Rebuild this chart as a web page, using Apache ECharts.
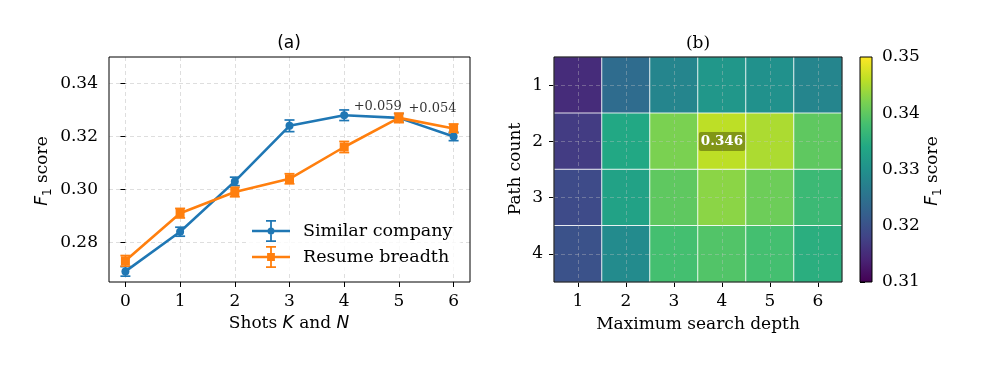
<!DOCTYPE html>
<html>
<head>
<meta charset="utf-8">
<script src="https://cdn.jsdelivr.net/npm/echarts@6/dist/echarts.min.js"></script>
<style>
html,body{margin:0;padding:0;background:#fff;}
#chart{width:997px;height:371px;}
</style>
</head>
<body>
<div id="chart"></div>
<script>
// ---------- data ----------
const shots = [0, 1, 2, 3, 4, 5, 6];
const similarCompany = [0.269, 0.284, 0.303, 0.324, 0.328, 0.327, 0.320];
const similarErr     = [0.0018, 0.0017, 0.0016, 0.0022, 0.0020, 0.0016, 0.0016];
const resumeBreadth  = [0.273, 0.291, 0.299, 0.304, 0.316, 0.327, 0.323];
const resumeErr      = [0.0020, 0.0018, 0.0018, 0.0019, 0.0021, 0.0018, 0.0017];
const leftYTicks = [0.28, 0.30, 0.32, 0.34];
const noteShots = [4, 5];
const noteValues = [similarCompany[4], resumeBreadth[5]];
const noteTexts = ['+0.059', '+0.054'];

const depthLabels = ['1', '2', '3', '4', '5', '6'];
const pathLabels = ['1', '2', '3', '4'];
const heatValues = [
  [0.315, 0.324, 0.328, 0.331, 0.330, 0.328],
  [0.317, 0.334, 0.342, 0.346, 0.345, 0.340],
  [0.319, 0.333, 0.340, 0.343, 0.341, 0.337],
  [0.320, 0.329, 0.338, 0.339, 0.338, 0.335]
];
const colorbarRange = [0.31, 0.35];

// ---------- styling ----------
const SERIF = 'DejaVu Serif';
const SANS = 'DejaVu Sans';
const FS = 17;
const BLUE = '#1f77b4', ORANGE = '#ff7f0e';
const viridis = ['#440154','#482475','#414487','#355f8d','#2a788e','#21918c','#22a884','#44bf70','#7ad151','#bddf26','#fde725'];

const G0 = {left:109, top:57, width:361, height:225};
const G1 = {left:554, top:57, width:288, height:225};
const G2 = {left:860, top:57, width:12, height:225};

const heatData = [];
heatValues.forEach((row, r) => row.forEach((v, c) => heatData.push([c, r, v])));
let maxCell = heatData[0];
heatData.forEach(d => { if (d[2] > maxCell[2]) maxCell = d; });

function errSeries(name, vals, errs, color) {
  return {
    type: 'custom', name: name + ' err', xAxisIndex: 0, yAxisIndex: 0,
    silent: true, clip: false,
    data: vals.map((v, i) => [shots[i], v, errs[i]]),
    renderItem: function (params, api) {
      const x = api.value(0), y = api.value(1), e = api.value(2);
      const t = api.coord([x, y + e]);
      const b = api.coord([x, y - e]);
      const w = 5;
      const st = {stroke: color, lineWidth: 1.7};
      return {type: 'group', children: [
        {type: 'line', shape: {x1: t[0], y1: t[1], x2: b[0], y2: b[1]}, style: st},
        {type: 'line', shape: {x1: t[0] - w, y1: t[1], x2: t[0] + w, y2: t[1]}, style: st},
        {type: 'line', shape: {x1: b[0] - w, y1: b[1], x2: b[0] + w, y2: b[1]}, style: st}
      ]};
    }
  };
}

const blueIcon = 'path://M0,9.75L38,9.75L38,12.25L0,12.25Z M18.1,0L19.9,0L19.9,22L18.1,22Z M14,0L24,0L24,1.7L14,1.7Z M14,20.3L24,20.3L24,22L14,22Z M15.5,11A3.5,3.5,0,1,1,22.5,11A3.5,3.5,0,1,1,15.5,11Z M45.9,11L46,11L46,11.1Z';
const orangeIcon = 'path://M0,9.75L38,9.75L38,12.25L0,12.25Z M18.1,0L19.9,0L19.9,22L18.1,22Z M14,0L24,0L24,1.7L14,1.7Z M14,20.3L24,20.3L24,22L14,22Z M15.1,7.1L22.9,7.1L22.9,14.9L15.1,14.9Z M45.9,11L46,11L46,11.1Z';

const tickStyle = {show: true, length: 5, lineStyle: {color: '#000', width: 1}};
const labelBase = {color: '#000', fontFamily: SERIF, fontSize: FS};
const gridDash = {show: true, lineStyle: {color: '#d6d6d6', type: [4, 3], width: 0.8}};

const chart = echarts.init(document.getElementById('chart'), null, {renderer: 'canvas'});

const option = {
  animation: false,
  backgroundColor: '#fff',
  grid: [
    Object.assign({outerBoundsMode: 'none', containLabel: false}, G0),
    Object.assign({outerBoundsMode: 'none', containLabel: false}, G1),
    Object.assign({outerBoundsMode: 'none', containLabel: false}, G2)
  ],
  xAxis: [
    {gridIndex: 0, type: 'value', min: -0.3, max: 6.3,
     axisLine: {show: false},
     axisTick: Object.assign({customValues: shots}, tickStyle),
     axisLabel: Object.assign({customValues: shots, margin: 11}, labelBase),
     splitLine: gridDash},
    {gridIndex: 1, type: 'category', data: depthLabels,
     axisLine: {show: false},
     axisTick: Object.assign({alignWithLabel: true}, tickStyle),
     axisLabel: Object.assign({margin: 11}, labelBase),
     splitLine: {show: false}},
    {gridIndex: 2, type: 'value', min: 0, max: 1, show: false}
  ],
  yAxis: [
    {gridIndex: 0, type: 'value', min: 0.265, max: 0.35,
     axisLine: {show: false},
     axisTick: Object.assign({customValues: leftYTicks}, tickStyle),
     axisLabel: Object.assign({customValues: leftYTicks, margin: 11, formatter: v => v.toFixed(2)}, labelBase),
     splitLine: gridDash},
    {gridIndex: 1, type: 'category', data: pathLabels, inverse: true,
     axisLine: {show: false},
     axisTick: Object.assign({alignWithLabel: true}, tickStyle),
     axisLabel: Object.assign({margin: 11}, labelBase),
     splitLine: {show: false}},
    {gridIndex: 2, type: 'value', min: colorbarRange[0], max: colorbarRange[1], interval: 0.01,
     position: 'right',
     axisLine: {show: false},
     axisTick: tickStyle,
     axisLabel: Object.assign({margin: 10, formatter: v => v.toFixed(2)}, labelBase),
     splitLine: {show: false}}
  ],
  visualMap: {
    type: 'continuous', show: false, min: colorbarRange[0], max: colorbarRange[1],
    seriesIndex: 5, dimension: 2, inRange: {color: viridis}
  },
  legend: {
    data: [{name: 'Similar company', icon: blueIcon}, {name: 'Resume breadth', icon: orangeIcon}],
    orient: 'vertical', left: 247, top: 217,
    itemWidth: 46, itemHeight: 22, itemGap: 4,
    padding: [3, 8, 4, 5],
    backgroundColor: 'rgba(255,255,255,0.8)', borderRadius: 3,
    selectedMode: false,
    textStyle: {color: '#000', fontFamily: SERIF, fontSize: 17.5}
  },
  series: [
    errSeries('Similar company', similarCompany, similarErr, BLUE),
    {type: 'line', name: 'Similar company', xAxisIndex: 0, yAxisIndex: 0,
     data: similarCompany.map((v, i) => [shots[i], v]),
     symbol: 'circle', symbolSize: 8, showAllSymbol: true,
     lineStyle: {color: BLUE, width: 2.6}, itemStyle: {color: BLUE},
     emphasis: {disabled: true}, silent: true},
    errSeries('Resume breadth', resumeBreadth, resumeErr, ORANGE),
    {type: 'line', name: 'Resume breadth', xAxisIndex: 0, yAxisIndex: 0,
     data: resumeBreadth.map((v, i) => [shots[i], v]),
     symbol: 'rect', symbolSize: 9, showAllSymbol: true,
     lineStyle: {color: ORANGE, width: 2.6}, itemStyle: {color: ORANGE},
     emphasis: {disabled: true}, silent: true},
    {type: 'scatter', name: 'notes', xAxisIndex: 0, yAxisIndex: 0,
     data: noteShots.map((s, i) => [s, noteValues[i], noteTexts[i]]),
     symbolSize: 1, itemStyle: {color: 'transparent'}, silent: true, z: 5,
     label: {show: true, position: 'right', distance: 9, offset: [0, -9],
             formatter: p => p.value[2], color: '#000', fontFamily: SERIF, fontSize: 13}},
    {type: 'heatmap', name: 'heat', xAxisIndex: 1, yAxisIndex: 1,
     data: heatData,
     itemStyle: {borderColor: 'rgba(255,255,255,0.85)', borderWidth: 1},
     emphasis: {disabled: true}, silent: true,
     markLine: {
       silent: true, symbol: 'none', animation: false,
       label: {show: false},
       lineStyle: {color: 'rgba(200,200,200,0.45)', type: [4, 3], width: 0.8},
       data: depthLabels.map((d, i) => ({xAxis: i})).concat(pathLabels.map((d, i) => ({yAxis: i})))
     },
     markPoint: {
       silent: true, symbol: 'rect', symbolSize: 0, animation: false,
       data: [{coord: [maxCell[0], maxCell[1]], value: maxCell[2]}],
       label: {show: true, position: 'inside', formatter: p => p.value.toFixed(3),
               color: '#fff', fontFamily: SERIF, fontWeight: 'bold', fontSize: 13.5,
               backgroundColor: 'rgba(40,40,0,0.4)', padding: [3, 2, 2, 2], borderRadius: 2}
     }},
    {type: 'custom', name: 'colorbar', xAxisIndex: 2, yAxisIndex: 2, silent: true,
     data: [[0, colorbarRange[0], 1, colorbarRange[1]]],
     renderItem: function (params, api) {
       const p0 = api.coord([api.value(0), api.value(1)]);
       const p1 = api.coord([api.value(2), api.value(3)]);
       return {type: 'rect',
         shape: {x: p0[0], y: p1[1], width: p1[0] - p0[0], height: p0[1] - p1[1]},
         style: {fill: new echarts.graphic.LinearGradient(0, 1, 0, 0,
           viridis.map((c, i) => ({offset: i / (viridis.length - 1), color: c})))}};
     }}
  ],
  graphic: [
    {type: 'rect', z: 100, silent: true, shape: {x: G0.left, y: G0.top, width: G0.width, height: G0.height}, style: {fill: null, stroke: '#000', lineWidth: 1}},
    {type: 'rect', z: 100, silent: true, shape: {x: G1.left, y: G1.top, width: G1.width, height: G1.height}, style: {fill: null, stroke: '#000', lineWidth: 1}},
    {type: 'rect', z: 100, silent: true, shape: {x: G2.left, y: G2.top, width: G2.width, height: G2.height}, style: {fill: null, stroke: '#000', lineWidth: 1}},
    {type: 'text', z: 100, x: 289, y: 44, style: {text: '(a)', font: '17px "DejaVu Sans"', fill: '#000', textAlign: 'center', textVerticalAlign: 'middle'}},
    {type: 'text', z: 100, x: 698, y: 44, style: {text: '(b)', font: '17px "DejaVu Serif"', fill: '#000', textAlign: 'center', textVerticalAlign: 'middle'}},
    {type: 'text', z: 100, x: 289, y: 324, style: {
      text: 'Shots {i|K} and {i|N}', fill: '#000', fontFamily: SERIF, fontSize: FS, textAlign: 'center', textVerticalAlign: 'middle',
      rich: {i: {fontFamily: SANS, fontStyle: 'italic', fontSize: FS, fill: '#000'}}}},
    {type: 'text', z: 100, x: 43, y: 171, rotation: Math.PI / 2, style: {
      text: '{i|F}{s|1} score', fill: '#000', fontFamily: SERIF, fontSize: FS, textAlign: 'center', textVerticalAlign: 'middle',
      rich: {i: {fontFamily: SANS, fontStyle: 'italic', fontSize: FS, fill: '#000'},
             s: {fontFamily: SANS, fontSize: 12, fill: '#000', padding: [9, 0, 0, 0]}}}},
    {type: 'text', z: 100, x: 516, y: 169, rotation: Math.PI / 2, style: {
      text: 'Path count', fill: '#000', fontFamily: SERIF, fontSize: FS, textAlign: 'center', textVerticalAlign: 'middle'}},
    {type: 'text', z: 100, x: 698, y: 325, style: {
      text: 'Maximum search depth', fill: '#000', fontFamily: SERIF, fontSize: FS, textAlign: 'center', textVerticalAlign: 'middle'}},
    {type: 'text', z: 100, x: 933, y: 171, rotation: Math.PI / 2, style: {
      text: '{i|F}{s|1} score', fill: '#000', fontFamily: SERIF, fontSize: FS, textAlign: 'center', textVerticalAlign: 'middle',
      rich: {i: {fontFamily: SANS, fontStyle: 'italic', fontSize: FS, fill: '#000'},
             s: {fontFamily: SANS, fontSize: 12, fill: '#000', padding: [9, 0, 0, 0]}}}}
  ]
};
chart.setOption(option);
</script>
</body>
</html>
